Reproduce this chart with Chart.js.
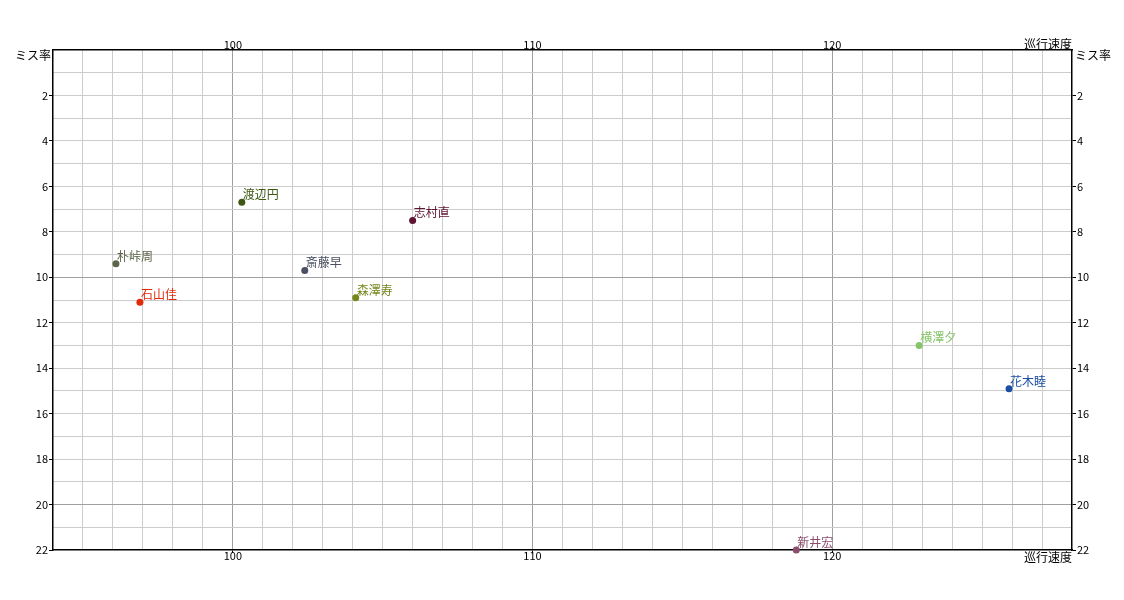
<!DOCTYPE html>
<html>
<head>
<meta charset="utf-8">
<script src="https://cdn.jsdelivr.net/npm/chart.js@4"></script>
<style>
  html, body { margin: 0; padding: 0; background: #fff; }
  #wrap { width: 1124px; height: 600px; }
</style>
</head>
<body>
<div id="wrap"><canvas id="grafica"></canvas></div>
<script>
// datos del grafico
var nombres = ['朴峠周', '石山佳', '渡辺円', '斎藤早', '森澤寿', '志村直', '横澤夕', '花木睦', '新井宏'];
var velocidad = [96.1, 96.9, 100.3, 102.4, 104.1, 106.0, 122.9, 125.9, 118.8];
var tasaError = [9.4, 11.1, 6.7, 9.7, 10.9, 7.5, 13.0, 14.9, 22.0];
var colores = ['#5a6448', '#e02a0a', '#3e5814', '#4a5062', '#76861c', '#5e1432', '#86c46a', '#1a4fa4', '#8c4c6c'];
var etiquetasX = [100, 110, 120];
var etiquetasY = [2, 4, 6, 8, 10, 12, 14, 16, 18, 20, 22];

var fuente = '"Noto Sans CJK JP", "DejaVu Sans", sans-serif';

var puntos = velocidad.map(function (v, i) {
    return { x: v, y: tasaError[i] };
});

function colorRejilla(valor, cada) {
    return (valor % cada === 0) ? '#a0a0a0' : '#cccccc';
}

function ejeX(pos, ancho) {
    return {
        type: 'linear',
        position: pos,
        min: 94,
        max: 128,
        afterFit: function (s) { s.height = ancho; },
        border: { display: true, color: '#000', width: 1.5 },
        grid: {
            color: function (c) {
                if (c.tick.value === 94 || c.tick.value === 128) return 'rgba(0,0,0,0)';
                return colorRejilla(c.tick.value, 10);
            },
            tickColor: function (c) {
                return etiquetasX.indexOf(c.tick.value) >= 0 ? '#000' : 'rgba(0,0,0,0)';
            },
            tickLength: 3
        },
        ticks: {
            stepSize: 1,
            autoSkip: false,
            maxRotation: 0,
            padding: -4,
            color: '#000',
            font: { family: fuente, size: 11 },
            callback: function (v) {
                return etiquetasX.indexOf(v) >= 0 ? String(v) : '';
            }
        }
    };
}

function ejeY(pos, ancho) {
    return {
        type: 'linear',
        position: pos,
        reverse: true,
        min: 0,
        max: 22,
        afterFit: function (s) { s.width = ancho; },
        border: { display: true, color: '#000', width: 1.5 },
        grid: {
            color: function (c) {
                if (c.tick.value === 0 || c.tick.value === 22) return 'rgba(0,0,0,0)';
                return colorRejilla(c.tick.value, 10);
            },
            tickColor: function (c) {
                return etiquetasY.indexOf(c.tick.value) >= 0 ? '#000' : 'rgba(0,0,0,0)';
            },
            tickLength: 4
        },
        ticks: {
            stepSize: 1,
            autoSkip: false,
            padding: 1,
            color: '#000',
            font: { family: fuente, size: 11 },
            callback: function (v) {
                return etiquetasY.indexOf(v) >= 0 ? String(v) : '';
            }
        }
    };
}

// nombres junto a cada punto y titulos de los ejes
var etiquetas = {
    id: 'etiquetas',
    afterDatasetsDraw: function (chart) {
        var ctx = chart.ctx;
        var meta = chart.getDatasetMeta(0);
        ctx.save();
        ctx.font = '12px ' + fuente;
        ctx.textAlign = 'left';
        ctx.textBaseline = 'alphabetic';
        meta.data.forEach(function (el, i) {
            ctx.fillStyle = colores[i];
            ctx.fillText(nombres[i], el.x + 1, el.y - 3);
        });

        var a = chart.chartArea;
        ctx.fillStyle = '#000';
        ctx.textBaseline = 'middle';
        ctx.textAlign = 'right';
        ctx.fillText('巡行速度', a.right, a.top - 6);
        ctx.fillText('巡行速度', a.right, a.bottom + 7);
        ctx.fillText('ミス率', a.left - 2, a.top + 5);
        ctx.textAlign = 'left';
        ctx.fillText('ミス率', a.right + 3, a.top + 5);
        ctx.restore();
    }
};

var ctx = document.getElementById('grafica').getContext('2d');
var grafica = new Chart(ctx, {
    type: 'scatter',
    data: {
        datasets: [{
            label: 'ミス率',
            data: puntos,
            pointRadius: 3.5,
            pointHoverRadius: 3.5,
            pointBackgroundColor: colores,
            pointBorderColor: colores,
            pointBorderWidth: 0,
            clip: false
        }]
    },
    options: {
        responsive: true,
        maintainAspectRatio: false,
        animation: false,
        layout: { padding: 0 },
        plugins: {
            legend: { display: false },
            tooltip: { enabled: false }
        },
        scales: {
            x: ejeX('bottom', 50),
            x2: ejeX('top', 50),
            y: ejeY('left', 53),
            y2: ejeY('right', 52)
        }
    },
    plugins: [etiquetas]
});
</script>
</body>
</html>
